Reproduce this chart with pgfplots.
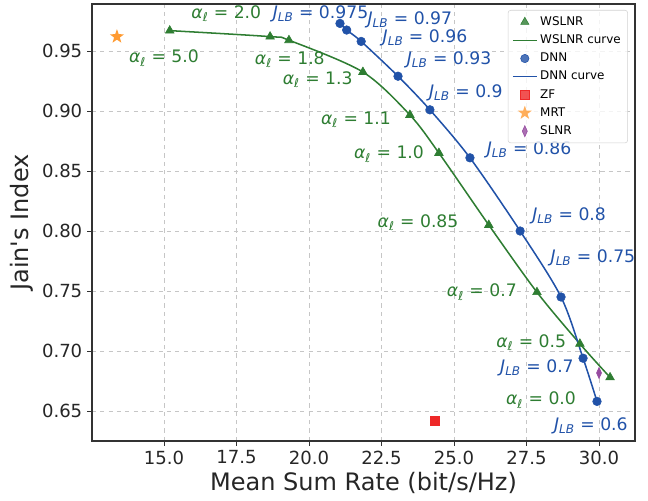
\documentclass[border=0pt]{standalone}
\usepackage{fontspec}
\setmainfont{DejaVu Sans}[Ligatures=TeXOff]
\usepackage{pgfplots}
\pgfplotsset{compat=1.18}
\usetikzlibrary{plotmarks}

\definecolor{wgreen}{RGB}{46,125,50}
\definecolor{dblue}{RGB}{33,82,168}
\definecolor{zfred}{RGB}{238,40,40}
\definecolor{mrtorange}{RGB}{255,155,50}
\definecolor{slnrpurple}{RGB}{150,75,160}

% filled five-pointed star, like matplotlib's '*'
\pgfdeclareplotmark{fstar}{%
  \pgfpathmoveto{\pgfpointpolar{90}{\pgfplotmarksize}}%
  \pgfpathlineto{\pgfpointpolar{126}{0.4\pgfplotmarksize}}%
  \pgfpathlineto{\pgfpointpolar{162}{\pgfplotmarksize}}%
  \pgfpathlineto{\pgfpointpolar{198}{0.4\pgfplotmarksize}}%
  \pgfpathlineto{\pgfpointpolar{234}{\pgfplotmarksize}}%
  \pgfpathlineto{\pgfpointpolar{270}{0.4\pgfplotmarksize}}%
  \pgfpathlineto{\pgfpointpolar{306}{\pgfplotmarksize}}%
  \pgfpathlineto{\pgfpointpolar{342}{0.4\pgfplotmarksize}}%
  \pgfpathlineto{\pgfpointpolar{18}{\pgfplotmarksize}}%
  \pgfpathlineto{\pgfpointpolar{54}{0.4\pgfplotmarksize}}%
  \pgfpathclose\pgfusepathqfill}

\newcommand{\al}[1]{\textit{α}\textsubscript{\textit{ℓ}} = #1}
\newcommand{\jlb}[1]{\textit{J}\textsubscript{\textit{LB}} = #1}
\newcommand{\annfont}{\fontsize{12.4}{14}\selectfont}

\begin{document}
\begin{tikzpicture}
\begin{axis}[
  scale only axis, width=390.96pt, height=314.64pt,
  xmin=12.52, xmax=31.24, ymin=0.625, ymax=0.9892,
  xtick={15,17.5,20,22.5,25,27.5,30},
  ytick={0.65,0.70,0.75,0.80,0.85,0.90,0.95},
  xticklabel style={/pgf/number format/.cd, fixed, fixed zerofill, precision=1},
  yticklabel style={/pgf/number format/.cd, fixed, fixed zerofill, precision=2},
  /pgf/number format/assume math mode=true,
  tick label style={font=\fontsize{13}{15}\selectfont, text=black!85},
  tick align=outside, major tick length=3.5pt,
  tick style={black!80, line width=0.6pt},
  xtick pos=bottom, ytick pos=left,
  grid=major, grid style={dashed, gray!45, line width=0.5pt},
  axis line style={black!80, line width=0.8pt},
  xlabel={Mean Sum Rate (bit/s/Hz)}, ylabel={Jain's Index},
  label style={font=\fontsize{17.3}{20}\selectfont, text=black!85},
  xlabel style={at={(axis description cs:0.5,-0.0961)}, anchor=center},
  ylabel style={at={(axis description cs:-0.1289,0.5)}, anchor=center},
  clip=false,
  legend cell align=left,
  legend style={at={(axis description cs:0.9871,0.9863)}, anchor=north east,
    font=\fontsize{8.6}{10}\selectfont, draw=gray!35, rounded corners=2pt,
    fill=white, fill opacity=0.8, text opacity=1, row sep=1.3pt,
    inner xsep=3pt, inner ysep=2.5pt},
]
% curves
\addplot[wgreen, line width=1.1pt, smooth, forget plot] coordinates {
  (15.2,0.967) (18.66,0.962) (19.31,0.959) (21.86,0.9325) (23.48,0.8967)
  (24.48,0.865) (26.2,0.805) (27.86,0.749) (29.34,0.706) (30.38,0.678)};
\addplot[dblue, line width=1.1pt, smooth, forget plot] coordinates {
  (21.07,0.973) (21.3,0.9675) (21.8,0.958) (23.07,0.929) (24.17,0.901)
  (25.55,0.861) (27.28,0.80) (28.69,0.745) (29.45,0.694) (29.93,0.658)};
% markers
\addplot[only marks, mark=triangle*, mark size=3.6pt, wgreen, forget plot] coordinates {
  (15.2,0.967) (18.66,0.962) (19.31,0.959) (21.86,0.9325) (23.48,0.8967)
  (24.48,0.865) (26.2,0.805) (27.86,0.749) (29.34,0.706) (30.38,0.678)};
\addplot[only marks, mark=*, mark size=3.1pt, dblue, forget plot] coordinates {
  (21.07,0.973) (21.3,0.9675) (21.8,0.958) (23.07,0.929) (24.17,0.901)
  (25.55,0.861) (27.28,0.80) (28.69,0.745) (29.45,0.694) (29.93,0.658)};
\addplot[only marks, mark=square*, mark size=3.2pt, zfred, forget plot] coordinates {(24.34,0.6417)};
\addplot[only marks, mark=fstar, mark size=5.4pt, mrtorange, forget plot] coordinates {(13.38,0.962)};
\addplot[only marks, mark=diamond*, mark size=4pt, slnrpurple, mark options={xscale=0.6}, forget plot] coordinates {(30.0,0.6817)};

% legend
\addlegendimage{only marks, mark=triangle*, mark size=3.4pt, wgreen}
\addlegendentry{WSLNR}
\addlegendimage{wgreen, line width=1.1pt}
\addlegendentry{WSLNR curve}
\addlegendimage{only marks, mark=*, mark size=3pt, dblue}
\addlegendentry{DNN}
\addlegendimage{dblue, line width=1.1pt}
\addlegendentry{DNN curve}
\addlegendimage{only marks, mark=square*, mark size=3pt, zfred}
\addlegendentry{ZF}
\addlegendimage{only marks, mark=fstar, mark size=5.2pt, mrtorange}
\addlegendentry{MRT}
\addlegendimage{only marks, mark=diamond*, mark size=4pt, slnrpurple, mark options={xscale=0.6}}
\addlegendentry{SLNR}

% annotations
\begin{scope}[every node/.style={font=\annfont, text=wgreen}]
\node at (axis cs:15.0,0.944) {\al{5.0}};
\node at (axis cs:17.15,0.981) {\al{2.0}};
\node at (axis cs:19.34,0.9425) {\al{1.8}};
\node at (axis cs:20.3,0.926) {\al{1.3}};
\node at (axis cs:21.62,0.8925) {\al{1.1}};
\node at (axis cs:22.76,0.864) {\al{1.0}};
\node at (axis cs:23.76,0.807) {\al{0.85}};
\node at (axis cs:25.96,0.749) {\al{0.7}};
\node at (axis cs:27.66,0.7067) {\al{0.5}};
\node at (axis cs:28.0,0.659) {\al{0.0}};
\end{scope}
\begin{scope}[every node/.style={font=\annfont, text=dblue}]
\node at (axis cs:20.4,0.981) {\jlb{0.975}};
\node at (axis cs:23.48,0.976) {\jlb{0.97}};
\node at (axis cs:24.0,0.961) {\jlb{0.96}};
\node at (axis cs:24.83,0.9425) {\jlb{0.93}};
\node at (axis cs:25.41,0.915) {\jlb{0.9}};
\node at (axis cs:27.59,0.868) {\jlb{0.86}};
\node at (axis cs:28.97,0.8125) {\jlb{0.8}};
\node at (axis cs:29.79,0.778) {\jlb{0.75}};
\node at (axis cs:27.86,0.686) {\jlb{0.7}};
\node at (axis cs:29.72,0.6375) {\jlb{0.6}};
\end{scope}
\coordinate (sw) at (rel axis cs:0,0);
\coordinate (ne) at (rel axis cs:1,1);
\end{axis}
\pgfresetboundingbox
\path ([shift={(-66.24pt,-43.2pt)}]sw) rectangle ([shift={(9.36pt,2.88pt)}]ne);
\end{tikzpicture}
\end{document}
